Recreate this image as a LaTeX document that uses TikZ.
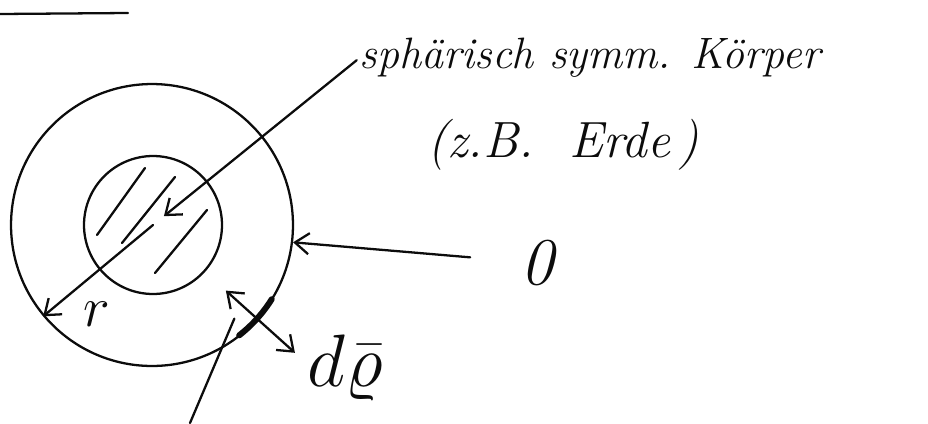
\documentclass[tikz,border=0pt]{standalone}
\usepackage{tikz}
\usetikzlibrary{arrows.meta}
\definecolor{pen}{RGB}{12,12,12}
\tikzset{
  stroke/.style={draw=pen,line width=1.3pt,line cap=round},
  barb/.style={stroke,-{Straight Barb[length=8pt,width=12pt]}},
  dbarb/.style={stroke,{Straight Barb[length=8pt,width=12pt]}-{Straight Barb[length=8pt,width=12pt]}},
  hand/.style={font=\itshape\fontsize{25}{29}\selectfont,text=pen,inner sep=0pt},
}

\begin{document}
\begin{tikzpicture}[x=0.02cm,y=-0.02cm]
  \useasboundingbox (0,0) rectangle (928,423);
  % stray rule at the top
  \draw[stroke] (0,14) -- (128,13);
  % body and core
  \node[stroke,circle,minimum size=5.64cm,inner sep=0pt] (outer) at (152,225) {};
  \node[stroke,circle,minimum size=2.76cm,inner sep=0pt] (inner) at (153,225) {};
  \coordinate (core) at (153,225);
  % hatching of the core
  \foreach \xa/\ya/\xb/\yb in {145/168/97/235,175/177/122/243,207/210/155/273}{
    \draw[stroke] (\xa,\ya) -- (\xb,\yb);
  }
  % labels
  \node[hand] (body) at (590,58) {sphärisch symm. Körper};
  \node[hand,font=\itshape\fontsize{29}{33}\selectfont] (bodyex) at (563,145) {(z.B.\ \ Erde\,)};
  \node[hand,font=\itshape\fontsize{38}{42}\selectfont] (zero) at (537,263) {0};
  \node[hand] (rlab) at (97,314) {\scalebox{1.3}{$r$}};
  \node[hand] (dlab) at (345,368) {\scalebox{1.7}{$d\bar{\varrho}$}};
  % thin shell
  \path (core) ++(42:98) coordinate (din) ++(42:93) coordinate (dout);
  \path (core) ++(49:124) coordinate (ptip);
  \coordinate (foot) at (190,423);
  \draw[stroke,line width=3.4pt] (core) ++(32:140) arc[start angle=32,end angle=52,radius=140];
  % arrows
  \draw[barb,shorten <=2pt,shorten >=0.28cm] (body.west) -- (core);
  \draw[barb] (core) -- (outer.220);
  \draw[barb,shorten <=1cm] (zero) -- (outer.-7);
  \draw[dbarb] (din) -- (dout);
  \draw[stroke] (foot) -- (ptip);
\end{tikzpicture}
\end{document}
